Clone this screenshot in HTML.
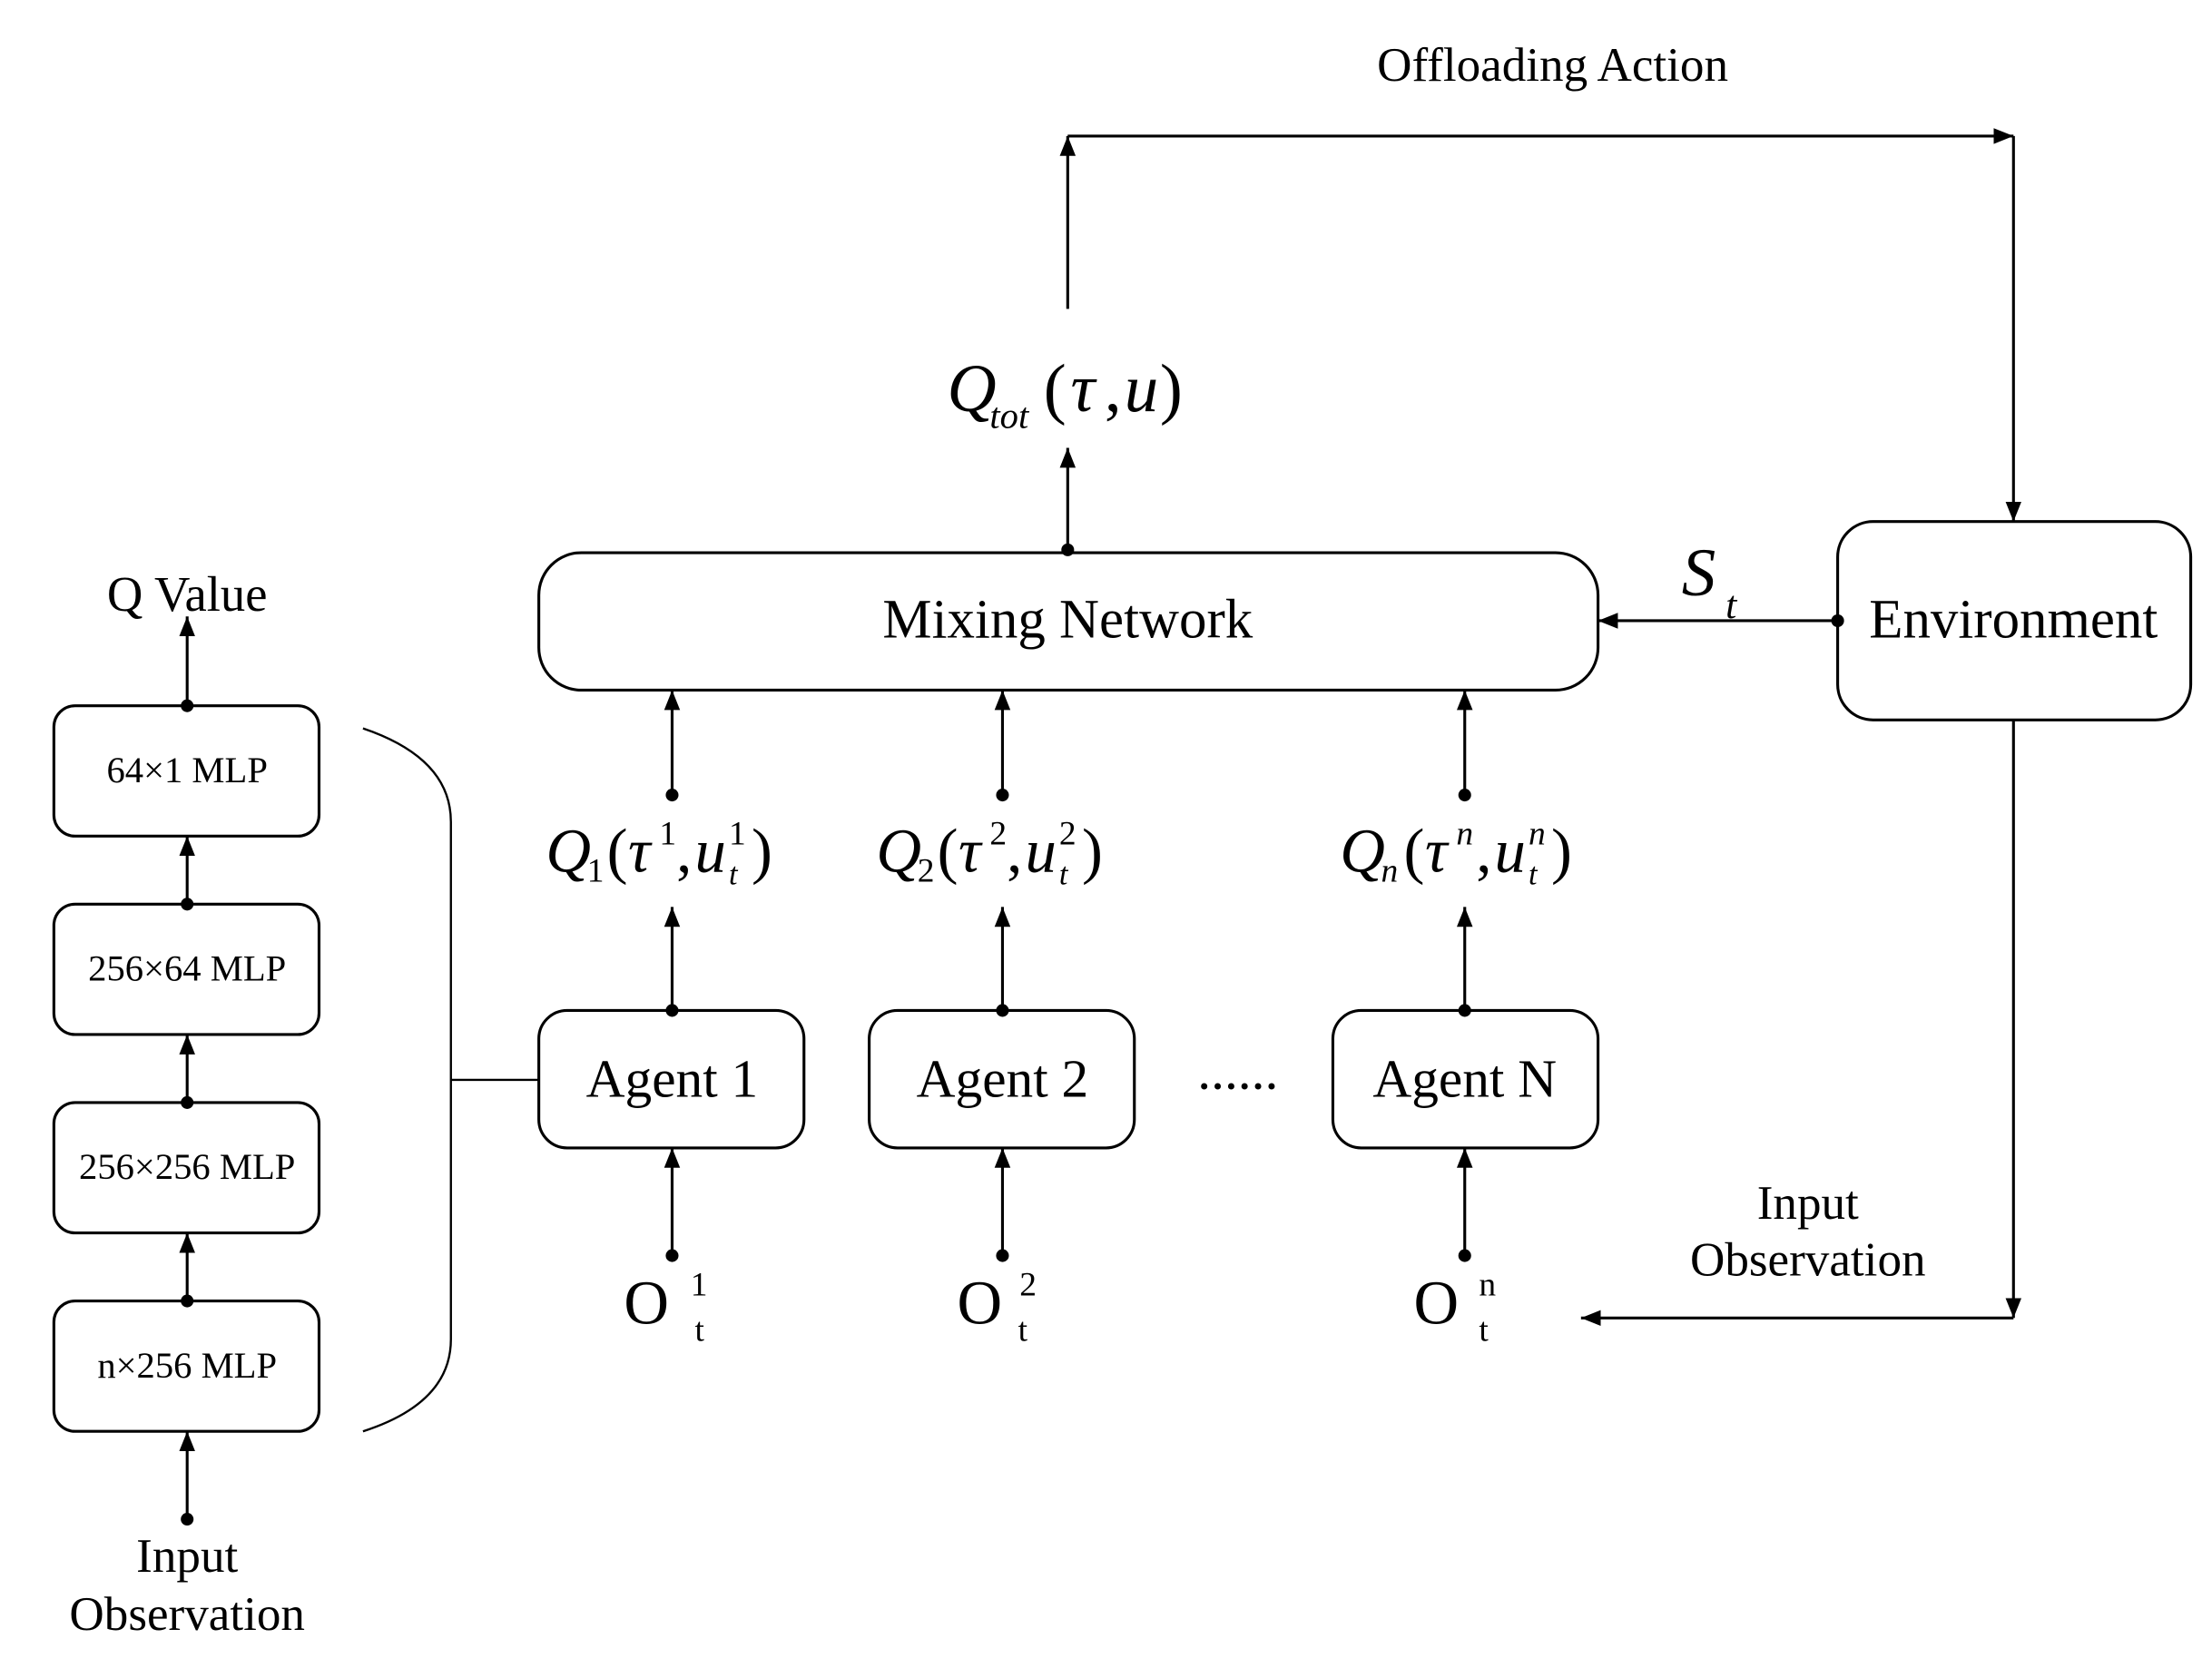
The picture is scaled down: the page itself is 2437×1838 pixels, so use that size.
<!DOCTYPE html>
<html><head><meta charset="utf-8"><style>html,body{margin:0;padding:0;background:#fff}svg{display:block}</style></head>
<body>
<svg width="2437" height="1838" viewBox="0 0 1560 1177" preserveAspectRatio="none" xmlns="http://www.w3.org/2000/svg" font-family="Liberation Serif, serif">
<defs>
<marker id="a" viewBox="0 0 10 10" refX="10" refY="5" markerWidth="14" markerHeight="14" markerUnits="userSpaceOnUse" orient="auto"><path d="M0,1 L10,5 L0,9 z" fill="#000"/></marker>
</defs>
<g stroke="#000" stroke-width="2" fill="none">
<line x1="753" y1="218" x2="753" y2="96" marker-end="url(#a)"/>
<line x1="753" y1="96" x2="1420" y2="96" marker-end="url(#a)"/>
<line x1="1420" y1="96" x2="1420" y2="368" marker-end="url(#a)"/>
<line x1="753" y1="388" x2="753" y2="316" marker-end="url(#a)"/>
<rect x="380" y="390" width="747" height="97" rx="30"/>
<rect x="1296" y="368" width="249" height="140" rx="25"/>
<line x1="1296" y1="438" x2="1127" y2="438" marker-end="url(#a)"/>
<line x1="1420" y1="508" x2="1420" y2="930" marker-end="url(#a)"/>
<line x1="1420" y1="930" x2="1115" y2="930" marker-end="url(#a)"/>
<rect x="380" y="713" width="187" height="97" rx="20"/>
<rect x="613" y="713" width="187" height="97" rx="20"/>
<rect x="940" y="713" width="187" height="97" rx="20"/>
<line x1="474" y1="713" x2="474" y2="640" marker-end="url(#a)"/>
<line x1="474" y1="561" x2="474" y2="487" marker-end="url(#a)"/>
<line x1="474" y1="886" x2="474" y2="810" marker-end="url(#a)"/>
<line x1="707" y1="713" x2="707" y2="640" marker-end="url(#a)"/>
<line x1="707" y1="561" x2="707" y2="487" marker-end="url(#a)"/>
<line x1="707" y1="886" x2="707" y2="810" marker-end="url(#a)"/>
<line x1="1033" y1="713" x2="1033" y2="640" marker-end="url(#a)"/>
<line x1="1033" y1="561" x2="1033" y2="487" marker-end="url(#a)"/>
<line x1="1033" y1="886" x2="1033" y2="810" marker-end="url(#a)"/>
<rect x="38" y="498" width="187" height="92" rx="15"/>
<rect x="38" y="638" width="187" height="92" rx="15"/>
<rect x="38" y="778" width="187" height="92" rx="15"/>
<rect x="38" y="918" width="187" height="92" rx="15"/>
<line x1="132" y1="498" x2="132" y2="435" marker-end="url(#a)"/>
<line x1="132" y1="638" x2="132" y2="590" marker-end="url(#a)"/>
<line x1="132" y1="778" x2="132" y2="730" marker-end="url(#a)"/>
<line x1="132" y1="918" x2="132" y2="870" marker-end="url(#a)"/>
<line x1="132" y1="1072" x2="132" y2="1010" marker-end="url(#a)"/>
<path d="M256,514 Q318,535 318,580 L318,945 Q318,990 256,1010" stroke-width="1.5"/>
<line x1="318" y1="762" x2="380" y2="762" stroke-width="1.5"/>
</g>
<g fill="#000">
<circle cx="753" cy="388" r="4.5"/><circle cx="1296" cy="438" r="4.5"/>
<circle cx="474" cy="713" r="4.5"/><circle cx="474" cy="561" r="4.5"/><circle cx="474" cy="886" r="4.5"/>
<circle cx="707" cy="713" r="4.5"/><circle cx="707" cy="561" r="4.5"/><circle cx="707" cy="886" r="4.5"/>
<circle cx="1033" cy="713" r="4.5"/><circle cx="1033" cy="561" r="4.5"/><circle cx="1033" cy="886" r="4.5"/>
<circle cx="132" cy="498" r="4.5"/><circle cx="132" cy="638" r="4.5"/><circle cx="132" cy="778" r="4.5"/><circle cx="132" cy="918" r="4.5"/><circle cx="132" cy="1072" r="4.5"/>
</g>
<g fill="#000" text-anchor="middle">
<text x="1095" y="57" font-size="34">Offloading Action</text>
<text x="753" y="450" font-size="39">Mixing Network</text>
<text x="1420" y="450" font-size="39">Environment</text>
<text x="474" y="774" font-size="38">Agent 1</text>
<text x="707" y="774" font-size="38">Agent 2</text>
<text x="1033" y="774" font-size="38">Agent N</text>
<text x="873" y="768" font-size="38">......</text>
<text x="1275" y="860" font-size="34">Input</text>
<text x="1275" y="900" font-size="34">Observation</text>
<text x="132" y="431" font-size="35">Q Value</text>
<text x="132" y="1109" font-size="34">Input</text>
<text x="132" y="1150" font-size="34">Observation</text>
<text x="132" y="552" font-size="26">64×1  MLP</text>
<text x="132" y="692" font-size="26">256×64 MLP</text>
<text x="132" y="832" font-size="26">256×256 MLP</text>
<text x="132" y="972" font-size="26">n×256 MLP</text>
</g>
<g fill="#000" font-size="44">
<!-- Qtot -->
<text x="668" y="290" font-style="italic" font-size="48">Q</text>
<text x="698" y="302" font-style="italic" font-size="26">tot</text>
<text x="736" y="290" font-size="48">(</text>
<text x="755" y="290" font-style="italic" font-size="48">τ</text>
<text x="779" y="290" font-size="48">,</text>
<text x="793" y="290" font-style="italic" font-size="48">u</text>
<text x="818" y="290" font-size="48">)</text>
<!-- St -->
<text x="1186" y="420" font-size="48" font-style="italic">S</text>
<text x="1217" y="436" font-size="28" font-style="italic">t</text>
<!-- Q1 -->
<text x="385" y="615" font-style="italic">Q</text><text x="414" y="622" font-size="24">1</text>
<text x="428" y="615">(</text><text x="443" y="615" font-style="italic">τ</text><text x="465" y="596" font-size="24">1</text>
<text x="477" y="615">,</text><text x="490" y="615" font-style="italic">u</text><text x="514" y="596" font-size="24">1</text><text x="514" y="624" font-size="22" font-style="italic">t</text>
<text x="530" y="615">)</text>
<!-- Q2 -->
<text x="618" y="615" font-style="italic">Q</text><text x="647" y="622" font-size="24">2</text>
<text x="661" y="615">(</text><text x="676" y="615" font-style="italic">τ</text><text x="698" y="596" font-size="24">2</text>
<text x="710" y="615">,</text><text x="723" y="615" font-style="italic">u</text><text x="747" y="596" font-size="24">2</text><text x="747" y="624" font-size="22" font-style="italic">t</text>
<text x="763" y="615">)</text>
<!-- Qn -->
<text x="945" y="615" font-style="italic">Q</text><text x="974" y="622" font-size="24" font-style="italic">n</text>
<text x="990" y="615">(</text><text x="1005" y="615" font-style="italic">τ</text><text x="1027" y="596" font-size="24" font-style="italic">n</text>
<text x="1041" y="615">,</text><text x="1054" y="615" font-style="italic">u</text><text x="1078" y="596" font-size="24" font-style="italic">n</text><text x="1078" y="624" font-size="22" font-style="italic">t</text>
<text x="1094" y="615">)</text>
<!-- O -->
<text x="440" y="934">O</text><text x="487" y="914" font-size="24">1</text><text x="490" y="946" font-size="24">t</text>
<text x="675" y="934">O</text><text x="719" y="914" font-size="24">2</text><text x="718" y="946" font-size="24">t</text>
<text x="997" y="934">O</text><text x="1043" y="914" font-size="24">n</text><text x="1043" y="946" font-size="24">t</text>
</g>
</svg>
</body></html>
